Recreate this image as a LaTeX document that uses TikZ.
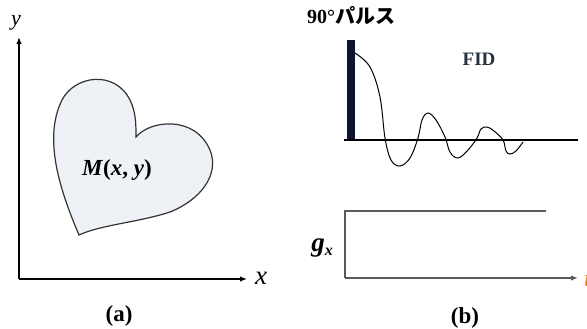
\documentclass[tikz,border=0pt]{standalone}
\usepackage{fontspec}
\setmainfont{Liberation Serif}
\newfontfamily\jpfont{Noto Sans CJK JP}
\usetikzlibrary{arrows.meta}
\definecolor{heartfill}{HTML}{EEF2F6}
\definecolor{pulseblue}{HTML}{0D1430}
\definecolor{gradgray}{HTML}{5A5A5A}
\definecolor{labelnavy}{HTML}{27313D}

\begin{document}
\begin{tikzpicture}[x=1pt,y=-1pt,
		axis/.style={line width=1.3pt, -{Latex[length=7pt,width=5.5pt]}},
		lbl/.style={inner sep=0pt, font=\fontsize{23}{25}\selectfont\bfseries}]
	\useasboundingbox (0,0) rectangle (587,329);
	\clip (0,0) rectangle (587,329);
	% (a) magnetisation in the x-y plane
	\coordinate (o) at (19,279);
	\coordinate (ytop) at (19,37);
	\coordinate (xend) at (247,279);
	\draw[axis] (o) -- (ytop);
	\draw[axis] (o) -- (xend);
	\node[inner sep=0pt, font=\fontsize{22}{24}\selectfont\itshape] (ylab) at (16,23) {y};
	\node[inner sep=0pt, font=\fontsize{27}{28}\selectfont\itshape] (xlab) at (261,278) {x};
	\draw[line width=1.2pt, draw=black!80, fill=heartfill]
		(79,235) .. controls (62,195) and (42,140) .. (62,100)
		.. controls (75,75) and (115,70) .. (130,100)
		.. controls (136,112) and (136,125) .. (136,137)
		.. controls (150,120) and (195,115) .. (210,150)
		.. controls (220,175) and (200,200) .. (170,212)
		.. controls (140,222) and (100,225) .. (79,235) -- cycle;
	\node[inner sep=0pt, font=\fontsize{23}{25}\selectfont\bfseries] (mag) at (117,170)
		{\textit{M}(\textit{x}, \textit{y})};
	\node[lbl] (capa) at (119,316) {(a)};
	% (b) 90 degree pulse and FID
	\node[inner sep=0pt, font=\fontsize{20}{22}\selectfont\bfseries] (pulselab) at (351,16)
		{90°{\jpfont\bfseries パルス}};
	\fill[pulseblue] (347,40) rectangle (355,141);
	\coordinate (b0) at (344,140);
	\coordinate (b1) at (578,140);
	\draw[line width=2.8pt] (b0) -- (b1);
	\draw[line width=1pt] plot[smooth, tension=0.6] coordinates {
		(355,53) (370,67) (380,97) (385,138) (391,160) (400,166) (410,158)
		(418,138) (422,120) (428,113) (436,120) (445,137) (450,152) (458,158)
		(468,150) (477,138) (481,129) (487,127) (494,131) (503,140) (506,151)
		(510,154) (516,151) (523,142)};
	\node[inner sep=0pt, font=\fontsize{19}{21}\selectfont\bfseries, text=labelnavy] (fid) at (479,59) {FID};
	% gradient pulse
	\coordinate (g0) at (345,278);
	\coordinate (gtop) at (345,211);
	\coordinate (gend) at (546,211);
	\coordinate (tend) at (578,278);
	\draw[line width=1.4pt, draw=gradgray] (gend) -- (gtop) -- (g0);
	\draw[axis, line width=1.4pt, draw=gradgray, fill=gradgray] (g0) -- (tend);
	\node[inner sep=0pt, font=\fontsize{27}{28}\selectfont\bfseries\itshape] (gx) at (322,248)
		{g\raisebox{-0.35ex}{\fontsize{16}{17}\selectfont x}};
	\node[inner sep=0pt, anchor=west, font=\fontsize{24}{26}\selectfont\itshape, text=orange!70!brown] (tlab) at (584,280) {t};
	\node[lbl] (capb) at (465,318) {(b)};
\end{tikzpicture}
\end{document}
